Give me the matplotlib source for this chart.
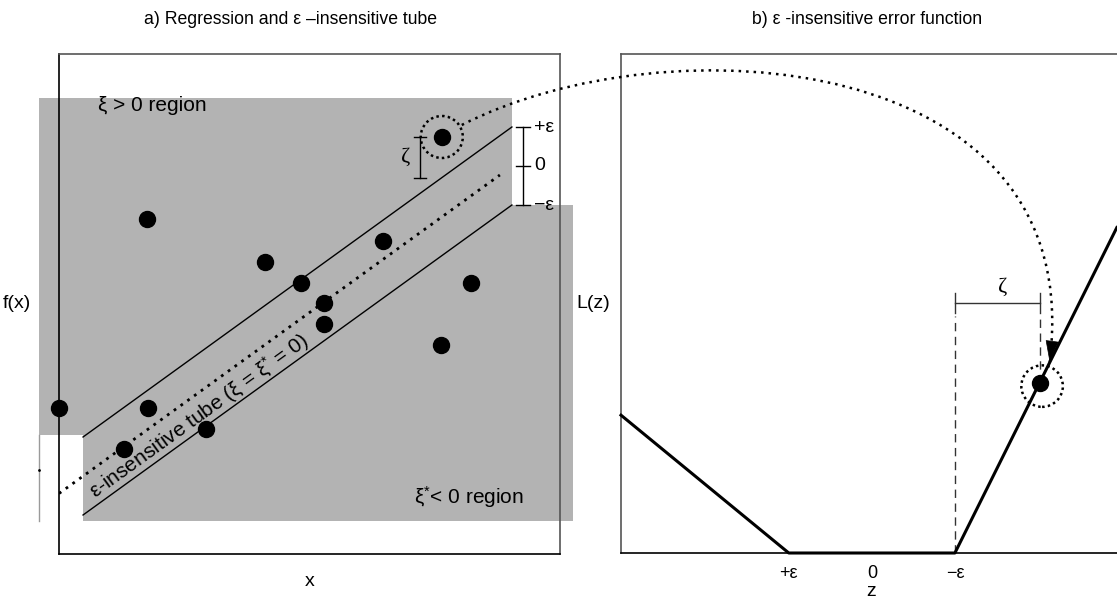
import numpy as np
import matplotlib
matplotlib.use('Agg')
import matplotlib.pyplot as plt
from matplotlib.patches import Polygon, Circle, PathPatch
from matplotlib.path import Path

plt.rcParams['font.family'] = ['Liberation Sans', 'DejaVu Sans']
plt.rcParams['mathtext.fontset'] = 'custom'
plt.rcParams['mathtext.rm'] = 'Liberation Sans'
plt.rcParams['mathtext.it'] = 'Liberation Sans'
plt.rcParams['mathtext.default'] = 'regular'

W, H = 1117, 604
GRAY = '#b3b3b3'
FRAME = '#555555'
DOTS = (0, (1, 2))

# panel a: training samples
sample_x = [7.64, 1.76, 4.11, 6.47, 4.83, 5.29, 5.29, 8.22, 7.62, 0.00, 1.78, 2.93, 1.30]
sample_y = [8.34, 6.70, 5.84, 6.26, 5.42, 5.02, 4.60, 5.42, 4.18, 2.92, 2.92, 2.50, 2.10]
circled_idx = 0

# regression line and tube
tube_x = [0.48, 9.04]
tube_mid = [1.56, 7.76]
center_x = [0.00, 8.80]
center_y = [1.21, 7.58]
eps = 0.78

# panel b: epsilon-insensitive loss
loss_z = [-3.02, -1.0, 1.0, 2.95]
loss_L = [1.66, 0.0, 0.0, 3.92]
loss_ticks = [-1, 0, 1]
loss_ticklabels = ['+ε', '0', '−ε']
err_z, err_L = 2.02, 2.05

fig = plt.figure(figsize=(W / 100, H / 100), dpi=100)

ax1 = fig.add_axes([59 / W, 1 - 554 / H, 501 / W, 500 / H])
ax2 = fig.add_axes([621 / W, 1 - 553 / H, 500 / W, 499 / H])

# ---------- panel a ----------
ax1.set_xlim(0, 10)
ax1.set_ylim(0, 10)
upper = [m + eps for m in tube_mid]
lower = [m - eps for m in tube_mid]

# shaded slack regions around the tube
reg = [(-0.40, 9.12), (tube_x[1], 9.12), (tube_x[1], lower[1]), (10.26, lower[1]),
       (10.26, 0.66), (tube_x[0], 0.66), (tube_x[0], upper[0] + 0.04), (-0.40, upper[0] + 0.04)]
ax1.add_patch(Polygon(reg, closed=True, facecolor=GRAY, edgecolor='none', zorder=1, clip_on=False))
ax1.plot([-0.40, -0.40], [0.66, upper[0] + 0.04], color='#9a9a9a', lw=1, clip_on=False, zorder=1)
ax1.plot([-0.40], [1.68], 'k.', ms=2, clip_on=False)

ax1.plot(tube_x, upper, color='k', lw=1, zorder=3)
ax1.plot(tube_x, lower, color='k', lw=1, zorder=3)
ax1.plot(center_x, center_y, color='k', lw=2, linestyle=DOTS, zorder=3)

ax1.plot(sample_x, sample_y, 'o', color='k', ms=11.5, zorder=4, clip_on=False)
cx, cy = sample_x[circled_idx], sample_y[circled_idx]
ax1.add_patch(Circle((cx, cy), 0.42, fill=False, ec='k', lw=1.8, ls=(0, (1, 1.3)), zorder=4))

# zeta bracket from circled sample down to the tube edge
z_top = cy
z_bot = np.interp(cx, tube_x, upper)
bx = cx - 0.43
ax1.plot([bx, bx], [z_bot, z_top], color='k', lw=1, zorder=3)
for yy in (z_bot, z_top):
    ax1.plot([bx - 0.12, bx + 0.12], [yy, yy], color='k', lw=1, zorder=3)
ax1.text(bx - 0.2, (z_bot + z_top) / 2, 'ζ', fontsize=16, family='Liberation Serif',
         ha='right', va='center')

# tube width bracket
ex = 9.26
levels = [upper[1], tube_mid[1], lower[1]]
ax1.plot([ex, ex], [levels[0], levels[2]], color='k', lw=1, clip_on=False)
for yy, lab in zip(levels, ['+ε', '0', '−ε']):
    ax1.plot([ex - 0.14, ex + 0.14], [yy, yy], color='k', lw=1, clip_on=False)
    ax1.text(ex + 0.22, yy, lab, fontsize=14, ha='left', va='center')

ax1.text(0.78, 8.96, 'ξ > 0 region', fontsize=15, ha='left', va='center')
ax1.text(7.08, 1.14, r'$\xi^{*}$< 0 region', fontsize=15, ha='left', va='center')
ax1.text(0.8, 1.0, r'ε-insensitive tube ($\xi$ = $\xi^{*}$ = 0)', fontsize=15,
         rotation=35.8, rotation_mode='anchor', ha='left', va='bottom')

ax1.set_xticks([])
ax1.set_yticks([])
for side in ('top', 'right'):
    ax1.spines[side].set_color(FRAME)
for side in ('left', 'bottom'):
    ax1.spines[side].set_color('k')
for sp in ax1.spines.values():
    sp.set_linewidth(1.2)
ax1.set_xlabel('x', fontsize=14, labelpad=14)
ax1.set_ylabel('f(x)', fontsize=14, rotation=0, labelpad=30, va='center')
fig.text(290 / W, 1 - 20 / H, 'a) Regression and ε –insensitive tube', fontsize=12.7,
         ha='center', va='center')

# ---------- panel b ----------
ax2.set_xlim(-3.02, 3.0)
ax2.set_ylim(0, 6.01)
ax2.plot(loss_z, loss_L, color='k', lw=2.2, zorder=3, clip_on=False)
ax2.plot([err_z], [err_L], 'o', color='k', ms=11.5, zorder=4)
ax2.add_patch(Circle((err_z + 0.03, err_L - 0.04), 0.25, fill=False, ec='k', lw=1.8,
                     ls=(0, (1, 1.3)), zorder=4))

zeta_y = 3.01
ax2.plot([1, 1], [0, 2.85], color='#333333', lw=1, dashes=(6, 4))
ax2.plot([err_z, err_z], [err_L, 2.85], color='#333333', lw=1, dashes=(6, 4))
ax2.plot([1, err_z], [zeta_y, zeta_y], color='#333333', lw=1)
for zz in (1, err_z):
    ax2.plot([zz, zz], [2.89, 3.13], color='#333333', lw=1)
ax2.text((1 + err_z) / 2 + 0.06, zeta_y + 0.08, 'ζ', fontsize=16, family='Liberation Serif',
         ha='center', va='bottom')

ax2.set_xticks(loss_ticks)
ax2.set_xticklabels(loss_ticklabels, fontsize=13)
ax2.tick_params(axis='x', length=0, pad=9)
ax2.set_yticks([])
ax2.spines['right'].set_visible(False)
for side in ('top', 'left'):
    ax2.spines[side].set_color(FRAME)
ax2.spines['bottom'].set_color('k')
for sp in ax2.spines.values():
    sp.set_linewidth(1.2)
ax2.set_xlabel('z', fontsize=14, labelpad=0)
ax2.set_ylabel('L(z)', fontsize=14, rotation=0, labelpad=20, va='center')
fig.text(867 / W, 1 - 20 / H, 'b) ε -insensitive error function', fontsize=12.7,
         ha='center', va='center')

# ---------- dotted connector from the circled sample to its loss ----------
ov = fig.add_axes([0, 0, 1, 1], zorder=5)
ov.set_xlim(0, W)
ov.set_ylim(0, H)
ov.axis('off')
ov.patch.set_alpha(0)

to_ov = ov.transData.inverted()
p0 = to_ov.transform(ax1.transData.transform((cx, cy))) + np.array([20, 12])
p3 = to_ov.transform(ax2.transData.transform((err_z, err_L))) + np.array([10, 21])
c1 = p0 + np.array([205, 105])
c2 = p3 + np.array([40, 312])
curve = Path([p0, c1, c2, p3], [Path.MOVETO, Path.CURVE4, Path.CURVE4, Path.CURVE4])
ov.add_patch(PathPatch(curve, fill=False, ec='k', lw=1.8, ls=DOTS))
tail = p3 + (c2 - p3) / np.linalg.norm(c2 - p3) * 18
ov.annotate('', xy=p3, xytext=tail,
            arrowprops=dict(arrowstyle='-|>,head_length=0.7,head_width=0.22', color='k',
                            lw=0.5, mutation_scale=20, shrinkA=0, shrinkB=0))

fig.savefig('out.png', dpi=100)
